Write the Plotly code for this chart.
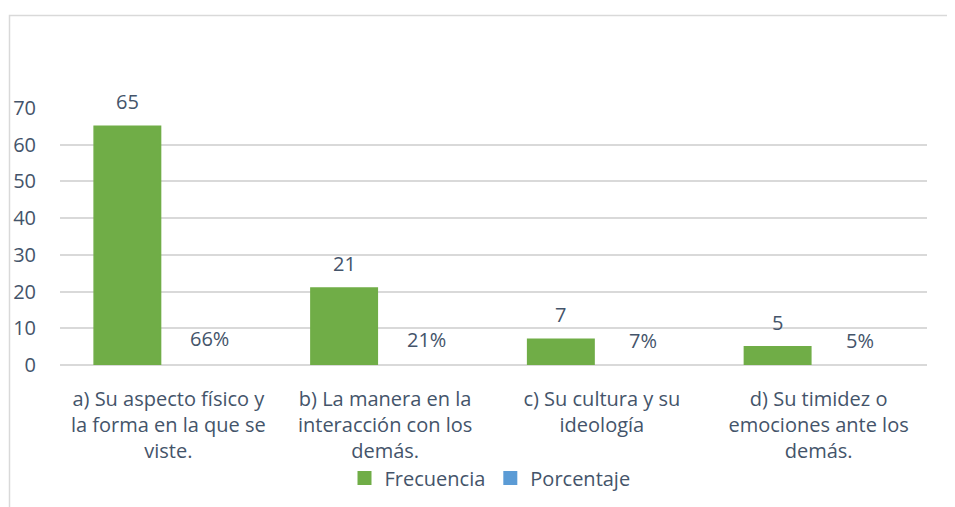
import plotly.graph_objects as go

categories = [
    "a) Su aspecto físico y<br>la forma en la que se<br>viste.",
    "b) La manera en la<br>interacción con los<br>demás.",
    "c) Su cultura y su<br>ideología",
    "d) Su timidez o<br>emociones ante los<br>demás.",
]
frecuencia = [65, 21, 7, 5]
porcentaje = [0.66, 0.21, 0.07, 0.05]
y_ticks = [0, 10, 20, 30, 40, 50, 60, 70]

TXT = "#44546a"
FONT = "Open Sans"
FS = 20
GREEN = "#70ad47"
BLUE = "#5b9bd5"
# page body has an 8px margin; figure sized to fit the window exactly
W, H = 947, 499
OFF = 8

def px_x(x):
    return (x - OFF) / W

def px_y(y):
    return (H - (y - OFF)) / H

fig = go.Figure()
fig.add_trace(go.Bar(name="Frecuencia", x=categories, y=frecuencia, offsetgroup="f",
                     marker=dict(color=GREEN, line=dict(width=1.5, color=GREEN))))
# percentage bars: their height (<1 unit) is invisible at this scale, as in the reference
fig.add_trace(go.Bar(name="Porcentaje", x=categories, y=porcentaje, offsetgroup="p",
                     showlegend=False, legendgroup="p",
                     marker=dict(color="rgba(91,155,213,0)", line=dict(width=0))))
fig.add_trace(go.Bar(name="Porcentaje", x=categories, y=[None] * len(categories), offsetgroup="p",
                     legendgroup="p", marker=dict(color=BLUE, line=dict(width=1.5, color=BLUE)),
                     hoverinfo="skip"))

for c, v in zip(categories, frecuencia):
    fig.add_annotation(x=c, y=v, text=str(v), showarrow=False, xref="x", yref="y",
                       yanchor="bottom", xshift=-41, yshift=9,
                       font=dict(size=FS, color=TXT, family=FONT))
for c, v in zip(categories, porcentaje):
    fig.add_annotation(x=c, y=v, text=f"{round(v*100)}%", showarrow=False, xref="x", yref="y",
                       yanchor="bottom", xshift=41, yshift=9,
                       font=dict(size=FS, color=TXT, family=FONT))

# chart frame (partially cropped in the reference)
fig.add_shape(type="rect", xref="paper", yref="paper",
              x0=px_x(9.5), x1=1.2, y0=-0.2, y1=px_y(15.5),
              line=dict(color="#d9d9d9", width=1.5), fillcolor="rgba(0,0,0,0)", layer="below")

fig.update_layout(
    width=W, height=H,
    margin=dict(l=0, r=0, t=0, b=0),
    paper_bgcolor="white", plot_bgcolor="white",
    barmode="group", bargap=0.243, bargroupgap=0.19,
    font=dict(family=FONT, size=FS, color=TXT),
    xaxis=dict(domain=[px_x(60), px_x(927)], showgrid=False, showline=False, ticks="",
               ticklabelstandoff=20, tickfont=dict(size=FS, color=TXT, family=FONT)),
    yaxis=dict(domain=[px_y(365), px_y(108)], range=[0, 70], tickvals=y_ticks,
               showgrid=True, gridcolor="#d9d9d9", gridwidth=1.5,
               zeroline=True, zerolinecolor="#d9d9d9", zerolinewidth=1.5,
               showline=False, ticks="", ticklabelstandoff=23,
               tickfont=dict(size=FS, color=TXT, family=FONT)),
    legend=dict(orientation="h", x=px_x(490), xanchor="center", y=px_y(478), yanchor="middle",
                font=dict(size=FS, color=TXT, family=FONT), itemsizing="constant",
                traceorder="normal", itemwidth=30),
    showlegend=True,
)
fig.update_xaxes(automargin=False)
fig.update_yaxes(automargin=False)

fig.write_html("out.html")
